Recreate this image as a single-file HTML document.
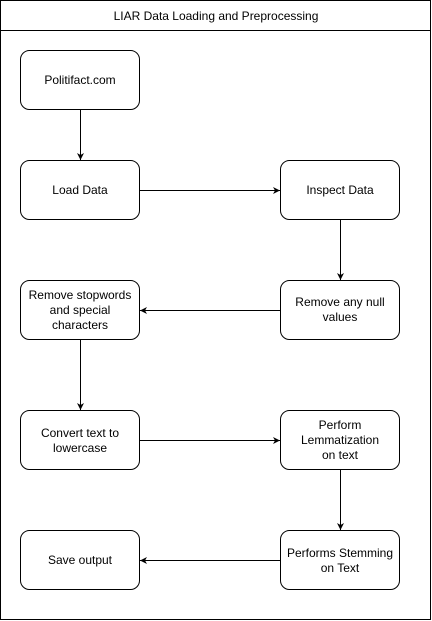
<!DOCTYPE html>
<html><head><meta charset="utf-8"><style>
html,body{margin:0;padding:0;background:#fff;}
svg{display:block;}
text{font-family:"Liberation Sans",Arial,sans-serif;font-size:12px;fill:#000;text-anchor:middle;}
</style></head><body>
<svg width="432" height="621" viewBox="0 0 432 621" xmlns="http://www.w3.org/2000/svg">
<defs><marker id="a" markerWidth="8" markerHeight="8" refX="7" refY="4" orient="auto" markerUnits="userSpaceOnUse"><path d="M0,0.5 L7,4 L0,7.5 L2,4 Z" fill="#000"/></marker></defs>
<rect x="0.5" y="0.5" width="430" height="619" fill="#fff" stroke="#000"/>
<line x1="0.5" y1="30.5" x2="430.5" y2="30.5" stroke="#000"/>
<text x="216" y="20">LIAR Data Loading and Preprocessing</text>
<g fill="#fff" stroke="#000">
<rect x="20.5" y="50.5" width="119" height="59" rx="9"/>
<rect x="20.5" y="160.5" width="119" height="59" rx="9"/>
<rect x="280.5" y="160.5" width="119" height="59" rx="9"/>
<rect x="280.5" y="280.5" width="119" height="59" rx="9"/>
<rect x="20.5" y="280.5" width="119" height="59" rx="9"/>
<rect x="20.5" y="410.5" width="119" height="59" rx="9"/>
<rect x="280.5" y="410.5" width="119" height="59" rx="9"/>
<rect x="280.5" y="530.5" width="119" height="59" rx="9"/>
<rect x="20.5" y="530.5" width="119" height="59" rx="9"/>
</g>
<g stroke="#000" fill="none" marker-end="url(#a)">
<line x1="80.5" y1="110" x2="80.5" y2="160"/>
<line x1="140" y1="190.5" x2="280" y2="190.5"/>
<line x1="340.5" y1="220" x2="340.5" y2="280"/>
<line x1="280" y1="310.5" x2="140" y2="310.5"/>
<line x1="80.5" y1="340" x2="80.5" y2="410"/>
<line x1="140" y1="440.5" x2="280" y2="440.5"/>
<line x1="340.5" y1="470" x2="340.5" y2="530"/>
<line x1="280" y1="560.5" x2="140" y2="560.5"/>
</g>
<text x="80" y="84">Politifact.com</text>
<text x="80" y="194">Load Data</text>
<text x="340" y="194">Inspect Data</text>
<text x="340" y="306">Remove any null</text>
<text x="340" y="321">values</text>
<text x="80" y="299">Remove stopwords</text>
<text x="80" y="314">and special</text>
<text x="80" y="329">characters</text>
<text x="80" y="437">Convert text to</text>
<text x="80" y="452">lowercase</text>
<text x="340" y="429">Perform</text>
<text x="340" y="444">Lemmatization</text>
<text x="340" y="459">on text</text>
<text x="340" y="557">Performs Stemming</text>
<text x="340" y="572">on Text</text>
<text x="80" y="564">Save output</text>
</svg>
</body></html>
